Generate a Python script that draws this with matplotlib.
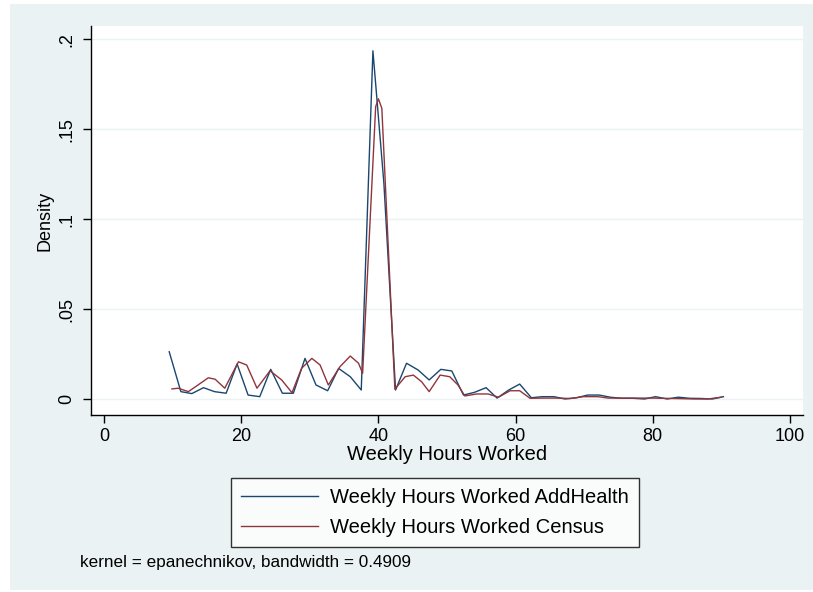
import matplotlib
matplotlib.use("Agg")
import matplotlib.pyplot as plt
import matplotlib.patches as patches

plt.rcParams['font.family'] = ['Liberation Sans', 'DejaVu Sans']

# ── Data ───────────────────────────────────────────────────────────────────────
addhealth_hours = [9.5, 11.2, 12.8, 14.5, 16.1, 17.8, 19.4, 21.0, 22.7, 24.3,
                   26.0, 27.6, 29.3, 30.9, 32.6, 34.2, 35.9, 37.5, 39.2, 40.8,
                   42.5, 44.1, 45.8, 47.4, 49.1, 50.7, 52.4, 54.0, 55.7, 57.3,
                   59.0, 60.6, 62.3, 63.9, 65.6, 67.2, 68.9, 70.5, 72.2, 73.8,
                   75.5, 77.1, 78.8, 80.4, 82.1, 83.7, 85.4, 87.0, 88.7, 90.3]
addhealth_dens = [0.0263, 0.0041, 0.0030, 0.0063, 0.0041, 0.0032, 0.0195, 0.0022, 0.0013, 0.0165,
                  0.0032, 0.0032, 0.0226, 0.0078, 0.0046, 0.0170, 0.0124, 0.0050, 0.1937, 0.1200,
                  0.0050, 0.0199, 0.0161, 0.0106, 0.0165, 0.0156, 0.0022, 0.0037, 0.0063, 0.0005,
                  0.0050, 0.0083, 0.0007, 0.0013, 0.0013, 0.0000, 0.0007, 0.0022, 0.0022, 0.0010,
                  0.0004, 0.0004, 0.0000, 0.0013, 0.0000, 0.0010, 0.0004, 0.0003, 0.0000, 0.0013]

census_hours = [9.9, 10.8, 12.3, 13.7, 15.2, 16.2, 17.6, 19.6, 20.8, 22.3,
                24.2, 25.9, 27.4, 28.8, 30.3, 31.5, 32.7, 34.4, 35.9, 37.1,
                37.7, 39.6, 40.0, 40.5, 42.4, 43.9, 45.1, 46.3, 47.4, 49.0,
                50.4, 51.6, 52.6, 54.3, 56.0, 57.5, 59.2, 60.6, 62.1, 64.0,
                66.0, 68.0, 69.9, 72.0, 73.5, 76.0, 80.0, 84.0, 86.0, 88.0, 90.0]
census_dens = [0.0056, 0.0060, 0.0041, 0.0078, 0.0118, 0.0110, 0.0060, 0.0207, 0.0189, 0.0060,
               0.0157, 0.0106, 0.0035, 0.0171, 0.0226, 0.0189, 0.0078, 0.0180, 0.0239, 0.0199,
               0.0143, 0.1626, 0.1670, 0.1617, 0.0055, 0.0124, 0.0133, 0.0096, 0.0041, 0.0133,
               0.0124, 0.0078, 0.0017, 0.0028, 0.0028, 0.0010, 0.0046, 0.0046, 0.0004, 0.0005,
               0.0005, 0.0003, 0.0013, 0.0013, 0.0005, 0.0005, 0.0005, 0.0002, 0.0000, 0.0000, 0.0010]

x_ticks = [0, 20, 40, 60, 80, 100]
y_ticks = [0, 0.05, 0.1, 0.15, 0.2]
y_tick_labels = ["0", ".05", ".1", ".15", ".2"]

# ── Colours (Stata s2color) ────────────────────────────────────────────────────
C_NAVY = "#1a476f"
C_MAROON = "#90353b"
C_REGION = "#eaf2f3"

W, H = 813, 592
fig = plt.figure(figsize=(W / 100, H / 100), dpi=100, facecolor="white")
fig.add_artist(patches.Rectangle((10 / W, 2 / H), (W - 10) / W, 586 / H,
                                 transform=fig.transFigure, facecolor=C_REGION,
                                 edgecolor="none", zorder=-10))

# plot region: x 91..803 px, y 26..415 px
ax = fig.add_axes([91 / W, 1 - 415 / H, (803 - 91) / W, (415 - 26) / H])
ax.set_facecolor("white")
ax.plot(addhealth_hours, addhealth_dens, color=C_NAVY, lw=1.0,
        label="Weekly Hours Worked AddHealth", zorder=3)
ax.plot(census_hours, census_dens, color=C_MAROON, lw=1.0,
        label="Weekly Hours Worked Census", zorder=3)

ax.set_xlim(-1.9, 101.9)
ax.set_ylim(-0.0089, 0.2075)
ax.set_xticks(x_ticks)
ax.set_yticks(y_ticks)
ax.set_yticklabels(y_tick_labels, rotation=90, va="center")
ax.grid(axis="y", color=C_REGION, lw=1.0, zorder=0)
for s in ("top", "right"):
    ax.spines[s].set_visible(False)
for s in ("left", "bottom"):
    ax.spines[s].set_linewidth(1.0)
ax.tick_params(direction="out", length=5.5, width=1.0, labelsize=13, pad=4)
ax.tick_params(axis="y", pad=6)

ax.set_xlabel("Weekly Hours Worked", fontsize=14.5, labelpad=0)
ax.set_ylabel("Density", fontsize=13, labelpad=3)

leg = fig.legend(loc="center", bbox_to_anchor=(435 / W, 1 - 512.5 / H),
                 fontsize=14.5, frameon=True, fancybox=False, edgecolor="black",
                 handlelength=3.8, handletextpad=0.6, borderpad=0.5,
                 labelspacing=0.55)
leg.get_frame().set_linewidth(1.0)

fig.text(80 / W, 1 - 562 / H, "kernel = epanechnikov, bandwidth = 0.4909",
         fontsize=12.3, va="center", ha="left")

fig.savefig("out.png", dpi=100, facecolor=fig.get_facecolor())
